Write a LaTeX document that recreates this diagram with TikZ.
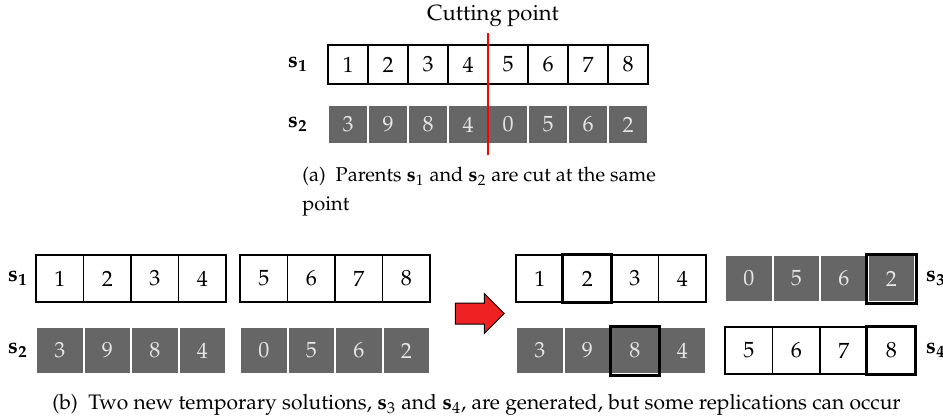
\documentclass[tikz,border=0pt]{standalone}
\usepackage[T1]{fontenc}
\usepackage{mathpazo}
\usepackage{tikz}
\usetikzlibrary{positioning}
\usetikzlibrary{shapes.arrows}
\definecolor{arrowred}{RGB}{238,34,34}
\tikzset{cell/.style = {draw, fill=white, line width=0.6pt, inner sep=0, font=\fontsize{11}{13}\selectfont}}
\tikzset{gcell/.style = {draw=white, fill=black!60, text=black!10, line width=1pt, inner sep=0, font=\fontsize{11}{13}\selectfont}}
\tikzset{small/.style = {minimum width=20pt, minimum height=19.5pt}}
\tikzset{big/.style = {minimum width=23.75pt, minimum height=23.5pt}}
\tikzset{hot/.style = {draw, line width=1.5pt}}
\tikzset{lab/.style = {inner sep=0, font=\fontsize{11}{13}\selectfont}}

\begin{document}
\begin{tikzpicture}[x=0.5pt, y=-0.5pt]
    \useasboundingbox (0,0) rectangle (943,419);
    % parents, cut at the same point
    \node[lab] (cut) at (493,16) {Cutting point};
    \foreach \v [count=\i] in {1,2,3,4,5,6,7,8} {
        \node[cell, small] (a1-\i) at ({328+40*(\i-0.5)},64.5) {\v};
    }
    \foreach \v [count=\i] in {3,9,8,4,0,5,6,2} {
        \node[gcell, small] (a2-\i) at ({328+40*(\i-0.5)},124.5) {\v};
    }
    \node[lab] (sa1) at (298,64.5) {$\mathbf{s_1}$};
    \node[lab] (sa2) at (298,124.5) {$\mathbf{s_2}$};
    \coordinate (cuttop) at (488,33);
    \coordinate (cutbot) at (488,155);
    \draw[red, line width=0.6pt] (cuttop) -- (cutbot);
    \node[anchor=west, inner sep=0, align=left, font=\fontsize{10}{14.5}\selectfont] (capa) at (302,192)
        {(a)~~Parents $\mathbf{s}_1$ and $\mathbf{s}_2$ are cut at the same\\point};
    % the two halves of each parent
    \foreach \v [count=\i] in {1,2,3,4} {
        \node[cell, big] (l1-\i) at ({36+47.5*(\i-0.5)},278.5) {\v};
    }
    \foreach \v [count=\i] in {5,6,7,8} {
        \node[cell, big] (m1-\i) at ({240+47.5*(\i-0.5)},278.5) {\v};
    }
    \foreach \v [count=\i] in {3,9,8,4} {
        \node[gcell, big] (l2-\i) at ({36+47.5*(\i-0.5)},350.5) {\v};
    }
    \foreach \v [count=\i] in {0,5,6,2} {
        \node[gcell, big] (m2-\i) at ({240+47.5*(\i-0.5)},350.5) {\v};
    }
    \node[lab] (sb1) at (18,278.5) {$\mathbf{s_1}$};
    \node[lab] (sb2) at (18,350.5) {$\mathbf{s_2}$};
    \node[single arrow, draw, fill=arrowred, line width=0.5pt, inner sep=5pt,
          single arrow head extend=4.75pt, minimum height=24.5pt, shape border rotate=0] (arr) at (474.5,313.5) {};
    % the two children
    \foreach \v [count=\i] in {1,2,3,4} {
        \node[cell, big] (r1-\i) at ({516+47.5*(\i-0.5)},278.5) {\v};
    }
    \foreach \v [count=\i] in {0,5,6,2} {
        \node[gcell, big] (q1-\i) at ({725+47.5*(\i-0.5)},278.5) {\v};
    }
    \foreach \v [count=\i] in {3,9,8,4} {
        \node[gcell, big] (r2-\i) at ({516+47.5*(\i-0.5)},350.5) {\v};
    }
    \foreach \v [count=\i] in {5,6,7,8} {
        \node[cell, big] (q2-\i) at ({725+47.5*(\i-0.5)},350.5) {\v};
    }
    \node[lab] (sc3) at (936,278.5) {$\mathbf{s_3}$};
    \node[lab] (sc4) at (936,350.5) {$\mathbf{s_4}$};
    % replicated values
    \foreach \c in {r1-2, q1-4, r2-3, q2-4} {
        \draw[hot] (\c.north west) rectangle (\c.south east);
    }
    \node[inner sep=0, font=\fontsize{10.5}{14.5}\selectfont] (capb) at (476.5,405)
        {(b)~~Two new temporary solutions, $\mathbf{s}_3$ and $\mathbf{s}_4$, are generated, but some replications can occur};
\end{tikzpicture}
\end{document}
